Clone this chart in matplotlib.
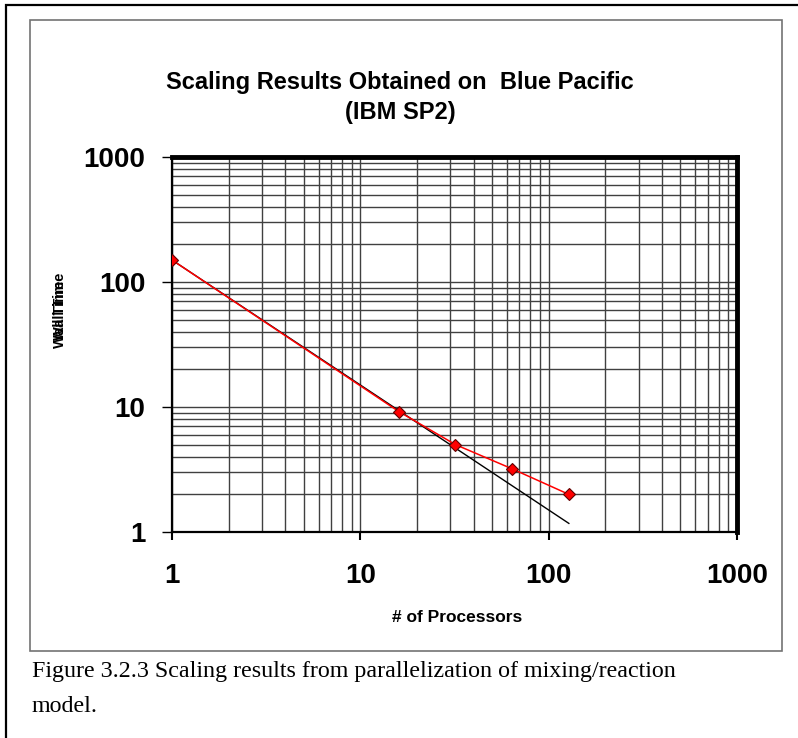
import numpy as np
import matplotlib.pyplot as plt
from matplotlib.patches import Rectangle
from matplotlib.ticker import LogLocator, NullFormatter

# Wall time measured on Blue Pacific (IBM SP2)
processors = [1, 16, 32, 64, 128]
wall_time = [150, 9.2, 5.0, 3.2, 2.0]

# ideal linear scaling from the single-processor run
ideal_procs = [1, 128]
ideal_time = [150, 150 / 128]

W, H = 798, 738
fig = plt.figure(figsize=(W / 100, H / 100), dpi=100)
plt.rcParams['font.family'] = ['Liberation Sans', 'DejaVu Sans']

# outer page frame and chart frame
fig.patches.append(Rectangle((6 / W, -0.1), 1.2, 1 - 5 / H + 0.1, transform=fig.transFigure,
                             fill=False, edgecolor='black', lw=1.6))
fig.patches.append(Rectangle((30 / W, 1 - 651 / H), (782 - 30) / W, (651 - 20) / H,
                             transform=fig.transFigure, fill=False, edgecolor='0.45', lw=1.2))

ax = fig.add_axes([172 / W, 1 - 532 / H, (737 - 172) / W, (532 - 157) / H])
ax.set_xscale('log')
ax.set_yscale('log')
ax.set_xlim(1, 1000)
ax.set_ylim(1, 1000)

ax.plot(ideal_procs, ideal_time, color='black', lw=1.0, zorder=3)
ax.plot(processors, wall_time, color='red', lw=1.1, marker='D', markersize=6.5,
        markerfacecolor='red', markeredgecolor='#600000', markeredgewidth=0.8, zorder=4)

ax.xaxis.set_minor_locator(LogLocator(base=10, subs=np.arange(2, 10)))
ax.yaxis.set_minor_locator(LogLocator(base=10, subs=np.arange(2, 10)))
ax.xaxis.set_minor_formatter(NullFormatter())
ax.yaxis.set_minor_formatter(NullFormatter())
ax.grid(True, which='both', color='0.25', lw=1.0)
ax.set_axisbelow(True)

ax.set_xticks([1, 10, 100, 1000])
ax.set_xticklabels(['1', '10', '100', '1000'])
ax.set_yticks([1, 10, 100, 1000])
ax.set_yticklabels(['1', '10', '100', '1000'])
ax.tick_params(which='major', axis='x', length=6, width=1.5, pad=16, labelsize=20)
ax.tick_params(which='major', axis='y', length=7, width=1.0, pad=12, labelsize=20)
ax.tick_params(which='minor', length=0)
for lbl in ax.get_xticklabels() + ax.get_yticklabels():
    lbl.set_fontweight('bold')

for side, w in [('left', 1.6), ('bottom', 1.6), ('top', 3.5), ('right', 3.5)]:
    ax.spines[side].set_linewidth(w)
    ax.spines[side].set_color('black')

fig.text(400 / W, 1 - 83 / H, 'Scaling Results Obtained on  Blue Pacific', ha='center', va='center',
         fontsize=17, fontweight='bold')
fig.text(400 / W, 1 - 113 / H, '(IBM SP2)', ha='center', va='center', fontsize=17, fontweight='bold')

fig.text(457 / W, 1 - 617 / H, '# of Processors', ha='center', va='center', fontsize=12.5, fontweight='bold')

# y label appears twice, slightly offset
fig.text(60 / W, 1 - 306 / H, 'Wall Time', ha='center', va='center', rotation=90,
         fontsize=10.5, fontweight='bold')
fig.text(60 / W, 1 - 314 / H, 'Wall Time', ha='center', va='center', rotation=90,
         fontsize=10.5, fontweight='bold')

fig.text(32 / W, 1 - 672 / H, 'Figure 3.2.3 Scaling results from parallelization of mixing/reaction',
         ha='left', va='center', fontsize=17.3, family='Liberation Serif')
fig.text(32 / W, 1 - 707 / H, 'model.', ha='left', va='center', fontsize=17.3, family='Liberation Serif')

fig.savefig('out.png', dpi=100)
